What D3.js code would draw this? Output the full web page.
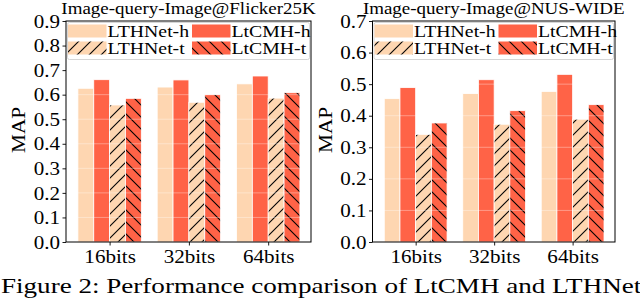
<!DOCTYPE html>
<html>
<head>
<meta charset="utf-8">
<script src="https://cdn.jsdelivr.net/npm/d3@7"></script>
<style>
  body { margin: 0; background: #fff; }
  svg { display: block; }
  text { font-family: "Liberation Serif", "Times New Roman", serif; fill: #000; }
</style>
</head>
<body>
<div class="mainContent"></div>
<script>
const w = 640;
const h = 300;

const groups = ['16bits', '32bits', '64bits'];
const methods = ['LTHNet-h', 'LtCMH-h', 'LTHNet-t', 'LtCMH-t'];

// Image-query-Image@Flicker25K
const flickrLTHNetH = [0.626, 0.631, 0.644];
const flickrLtCMHH = [0.661, 0.660, 0.676];
const flickrLTHNetT = [0.558, 0.569, 0.586];
const flickrLtCMHT = [0.585, 0.600, 0.608];
const flickrTicks = [0.0, 0.1, 0.2, 0.3, 0.4, 0.5, 0.6, 0.7, 0.8, 0.9];

// Image-query-Image@NUS-WIDE
const nusLTHNetH = [0.454, 0.470, 0.477];
const nusLtCMHH = [0.489, 0.514, 0.531];
const nusLTHNetT = [0.341, 0.373, 0.389];
const nusLtCMHT = [0.377, 0.416, 0.435];
const nusTicks = [0.0, 0.1, 0.2, 0.3, 0.4, 0.5, 0.6, 0.7];

const caption = 'Figure 2: Performance comparison of LtCMH and LTHNet';

const fills = ['#fed6b1', '#ff6347', '#fed6b1', '#ff6347'];
const hatches = [null, null, 'fwd', 'back'];
const sx = 1.17;   // the glyphs in the picture are wider than they are tall
const plotTop = 21, plotBottom = 242;

const svg = d3.select('.mainContent')
    .append('svg')
    .attr('width', w)
    .attr('height', h);

// hatch patterns, one per direction
const defs = svg.append('defs');
['fwd', 'back'].forEach((dir, k) => {
    const s = 12;
    const pat = defs.append('pattern')
        .attr('id', 'hatch-' + dir)
        .attr('patternUnits', 'userSpaceOnUse')
        .attr('width', s)
        .attr('height', s);
    pat.append('rect').attr('width', s).attr('height', s).attr('fill', k ? fills[3] : fills[2]);
    const segs = dir == 'fwd'
        ? [[0, s, s, 0], [-3, 3, 3, -3], [s - 3, s + 3, s + 3, s - 3]]
        : [[0, 0, s, s], [-3, s - 3, 3, s + 3], [s - 3, -3, s + 3, 3]];
    segs.forEach(p => {
        pat.append('line')
            .attr('x1', p[0]).attr('y1', p[1]).attr('x2', p[2]).attr('y2', p[3])
            .attr('stroke', '#000').attr('stroke-width', 1.1);
    });
});

function fillOf(k) {
    return hatches[k] ? `url(#hatch-${hatches[k]})` : fills[k];
}

function label(sel, x, y, str, size, anchor, k) {
    return sel.append('text')
        .attr('transform', `translate(${x},${y}) scale(${k || sx},1)`)
        .attr('text-anchor', anchor || 'start')
        .style('font-size', size + 'px')
        .text(str);
}

function drawPanel(p) {
    const xScale = d3.scaleLinear()
        .domain([-0.55, 2.54])
        .range([p.left, p.right]);
    const yScale = d3.scaleLinear()
        .domain([0, p.ticks[p.ticks.length - 1]])
        .range([plotBottom, plotTop]);
    const bw = xScale(0.2) - xScale(0);

    const g = svg.append('g');

    p.series.forEach((vals, k) => {
        g.selectAll(null)
            .data(vals)
            .enter()
            .append('rect')
            .attr('x', (d, i) => xScale(i + (k - 2) * 0.2))
            .attr('y', d => yScale(d))
            .attr('width', bw)
            .attr('height', d => yScale(0) - yScale(d))
            .attr('fill', fillOf(k))
            .attr('stroke', '#fff')
            .attr('stroke-width', 0.8);
    });

    // faint white grid sitting over the bars
    g.selectAll(null)
        .data(p.ticks.slice(1))
        .enter()
        .append('line')
        .attr('x1', p.left).attr('x2', p.right)
        .attr('y1', d => yScale(d)).attr('y2', d => yScale(d))
        .attr('stroke', '#fff').attr('stroke-opacity', 0.35).attr('stroke-width', 1);

    // y axis
    const yAxis = d3.axisLeft(yScale)
        .tickValues(p.ticks)
        .tickFormat(d3.format('.1f'))
        .tickSize(3.5)
        .tickPadding(0);
    const ya = g.append('g')
        .attr('transform', `translate(${p.left},0)`)
        .call(yAxis);
    ya.select('.domain').remove();
    ya.selectAll('line').attr('stroke', '#000').attr('stroke-width', 0.9);
    ya.selectAll('text')
        .attr('x', null)
        .attr('dy', '0.34em')
        .attr('transform', `translate(-6,0) scale(${sx},1)`)
        .style('font-size', '18px')
        .attr('font-family', null);

    // x axis
    const xAxis = d3.axisBottom(xScale)
        .tickValues([0, 1, 2])
        .tickFormat(i => groups[i])
        .tickSize(3.5);
    const xa = g.append('g')
        .attr('transform', `translate(0,${plotBottom})`)
        .call(xAxis);
    xa.select('.domain').remove();
    xa.selectAll('line').attr('stroke', '#000').attr('stroke-width', 0.9);
    xa.selectAll('text')
        .attr('y', 21)
        .attr('dy', 0)
        .attr('transform', `scale(${sx - 0.03},1)`)
        .style('font-size', '18.5px')
        .attr('font-family', null);

    // frame
    g.append('rect')
        .attr('x', p.left).attr('y', plotTop)
        .attr('width', p.right - p.left).attr('height', plotBottom - plotTop)
        .attr('fill', 'none').attr('stroke', '#000').attr('stroke-width', 1);

    // legend
    const lx = p.left + 1.5;
    const lg = g.append('g');
    lg.append('rect')
        .attr('x', lx).attr('y', 22.5)
        .attr('width', p.right - p.left - 3).attr('height', 37)
        .attr('rx', 2)
        .attr('fill', '#fff').attr('fill-opacity', 0.8)
        .attr('stroke', '#d6d6d6').attr('stroke-width', 1);
    methods.forEach((m, k) => {
        const col = k % 2, row = Math.floor(k / 2);
        const hx = lx + 0.5 + col * 124;
        const hy = 24.5 + row * 17;
        lg.append('rect')
            .attr('x', hx).attr('y', hy)
            .attr('width', 38.5).attr('height', 13)
            .attr('fill', fillOf(k));
        label(lg, hx + 39.5, hy + 12.8, m, 17.5, 'start', 1.13);
    });

    // title and axis name
    label(g, (p.left + p.right) / 2, 13.5, p.title, 16.5, 'middle', 1.15);
    g.append('text')
        .attr('transform', `translate(${p.left - 41},130) rotate(-90) scale(1.18,1)`)
        .attr('text-anchor', 'middle')
        .style('font-size', '18px')
        .text('MAP');
}

drawPanel({
    title: 'Image-query-Image@Flicker25K',
    series: [flickrLTHNetH, flickrLtCMHH, flickrLTHNetT, flickrLtCMHT],
    ticks: flickrTicks,
    left: 66, right: 311
});

drawPanel({
    title: 'Image-query-Image@NUS-WIDE',
    series: [nusLTHNetH, nusLtCMHH, nusLTHNetT, nusLtCMHT],
    ticks: nusTicks,
    left: 372.5, right: 615
});

label(svg, 1, 292.5, caption, 21.5, 'start', 1.26);
</script>
</body>
</html>
